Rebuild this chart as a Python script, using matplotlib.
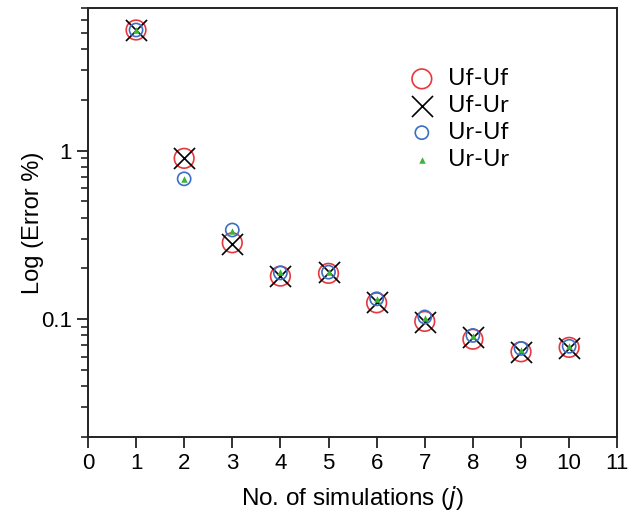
import numpy as np
import matplotlib
matplotlib.use('Agg')
import matplotlib.pyplot as plt
from matplotlib.ticker import LogLocator, FixedLocator, NullFormatter, FixedFormatter

## data
sims = [1, 2, 3, 4, 5, 6, 7, 8, 9, 10]
uf_uf = [5.2, 0.90, 0.284, 0.180, 0.187, 0.125, 0.097, 0.076, 0.064, 0.068]
uf_ur = [5.2, 0.90, 0.280, 0.180, 0.190, 0.127, 0.096, 0.078, 0.064, 0.067]
ur_uf = [5.2, 0.68, 0.338, 0.188, 0.190, 0.132, 0.103, 0.080, 0.067, 0.069]
ur_ur = [5.2, 0.68, 0.335, 0.190, 0.190, 0.131, 0.102, 0.079, 0.066, 0.069]

plt.rcParams['font.family'] = ['Liberation Sans', 'DejaVu Sans']

fig = plt.figure(figsize=(6.37, 5.14), dpi=100)
ax = fig.add_axes([0.138, 0.150, 0.831, 0.834])

ax.scatter(sims, uf_uf, s=200, facecolors='none', edgecolors='#e8383d', linewidths=1.2, label='Uf-Uf', zorder=2)
ax.scatter(sims, uf_ur, s=230, marker='x', color='black', linewidths=1.2, label='Uf-Ur', zorder=3)
ax.scatter(sims, ur_uf, s=90, facecolors='none', edgecolors='#3a6fc4', linewidths=1.2, label='Ur-Uf', zorder=4)
ax.scatter(sims, ur_ur, s=22, marker='^', color='#3cb33c', linewidths=0, label='Ur-Ur', zorder=5)

ax.set_yscale('log')
ax.set_xlim(0, 11)
ax.set_ylim(0.02, 7)
ax.set_xticks(range(0, 12))
ax.yaxis.set_major_locator(FixedLocator([0.1, 1]))
ax.yaxis.set_major_formatter(FixedFormatter(['0.1', '1']))
ax.yaxis.set_minor_locator(LogLocator(base=10, subs=np.arange(2, 10)))
ax.yaxis.set_minor_formatter(NullFormatter())

for sp in ax.spines.values():
    sp.set_linewidth(1.4)
    sp.set_color('#222222')
ax.tick_params(axis='both', which='major', direction='out', length=8, width=1.3, labelsize=16, color='#222222')
ax.tick_params(axis='y', which='minor', direction='out', length=5, width=1.2, color='#222222')
ax.tick_params(top=False, right=False)

ax.set_xlabel('No. of simulations ($\\it{j}$)', fontsize=17.5, labelpad=7)
ax.set_ylabel('Log (Error %)', fontsize=17, labelpad=-2)

leg = ax.legend(loc='upper left', bbox_to_anchor=(0.555, 0.91), frameon=False,
                prop={'family': 'Lato', 'size': 17}, handletextpad=0.3,
                handlelength=1.6, labelspacing=0.25, markerscale=1.0)

plt.savefig('out.png', dpi=100)
plt.close()
